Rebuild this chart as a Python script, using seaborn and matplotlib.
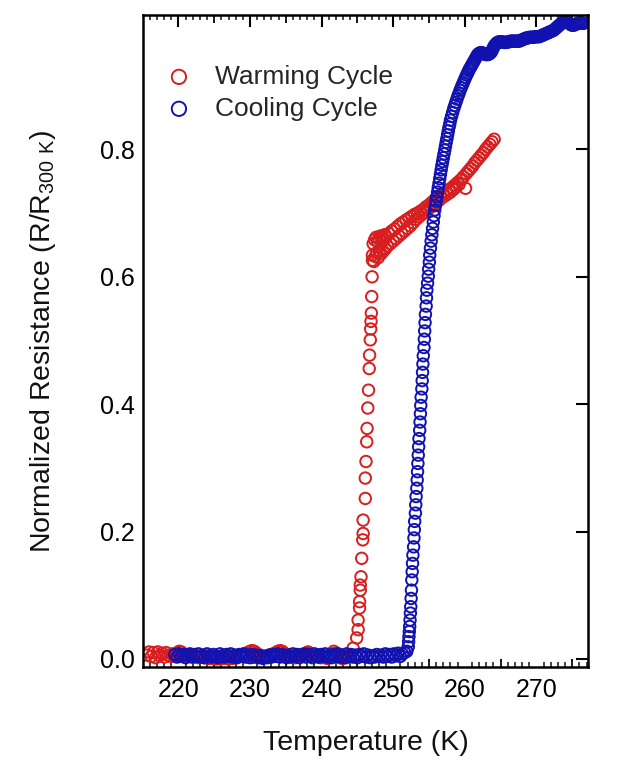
import matplotlib
matplotlib.use("Agg")
import matplotlib.pyplot as plt
import seaborn as sns
import pandas as pd
from matplotlib.ticker import MultipleLocator, FixedLocator, NullLocator

sns.set_theme(style="white")
plt.rcParams["font.family"] = ["Liberation Sans", "DejaVu Sans"]
plt.rcParams["mathtext.default"] = "regular"

# ---------------- data ----------------
warm_T_flat = [215.6, 215.9, 216.2, 216.5, 216.8, 217.1, 217.4, 217.7, 218.0, 218.3, 218.6, 218.9,
               219.2, 219.5, 219.8, 220.1, 220.4, 220.7, 221.0, 221.3, 221.6, 221.9, 222.2, 222.5,
               222.8, 223.1, 223.4, 223.7, 224.0, 224.3, 224.6, 224.9, 225.2, 225.5, 225.8, 226.1,
               226.4, 226.7, 227.0, 227.3, 227.6, 227.9, 228.2, 228.5, 228.8, 229.1, 229.4, 229.7,
               230.0, 230.3, 230.6, 230.9, 231.2, 231.5, 231.8, 232.1, 232.4, 232.7, 233.0, 233.3,
               233.6, 233.9, 234.2, 234.5, 234.8, 235.1, 235.4, 235.7, 236.0, 236.3, 236.6, 236.9,
               237.2, 237.5, 237.8, 238.1, 238.4, 238.7, 239.0, 239.3, 239.6, 239.9, 240.2, 240.5,
               240.8, 241.1, 241.4, 241.7, 242.0, 242.3, 242.6, 242.9, 243.2, 243.5, 243.8, 244.1, 244.4]
warm_R_flat = [0.006, 0.011, 0.004, 0.010, 0.002, 0.011, 0.005, 0.009, 0.003, 0.010, 0.006, 0.004,
               0.008, 0.005, 0.009, 0.012, 0.011, 0.007, 0.005, 0.006, 0.004, 0.005, 0.003, 0.004,
               0.002, 0.003, 0.004, 0.002, 0.003, 0.001, 0.002, 0.001, 0.000, 0.001, 0.000, 0.001,
               0.002, 0.001, 0.000, 0.002, 0.001, 0.003, 0.004, 0.005, 0.006, 0.007, 0.008, 0.010,
               0.012, 0.013, 0.012, 0.009, 0.007, 0.005, 0.004, 0.004, 0.005, 0.006, 0.007, 0.008,
               0.010, 0.012, 0.013, 0.012, 0.009, 0.007, 0.005, 0.004, 0.003, 0.002, 0.003, 0.004,
               0.005, 0.006, 0.008, 0.011, 0.009, 0.007, 0.005, 0.004, 0.003, 0.002, 0.003, 0.002,
               0.001, 0.004, 0.008, 0.012, 0.009, 0.004, 0.002, 0.001, 0.003, 0.002, 0.004, 0.006, 0.017]

warm_T_jump = [244.9, 245.1, 245.1, 245.3, 245.3, 245.4, 245.4, 245.5, 245.6, 245.75, 245.8, 245.8,
               246.1, 246.1, 246.2, 246.3, 246.35, 246.45, 246.55, 246.65, 246.7, 246.8, 246.85,
               246.9, 246.95, 247.0, 247.05, 247.1]
warm_R_jump = [0.033, 0.046, 0.061, 0.080, 0.090, 0.108, 0.116, 0.129, 0.158, 0.187, 0.197, 0.218,
               0.252, 0.284, 0.310, 0.341, 0.362, 0.394, 0.422, 0.456, 0.477, 0.501, 0.518,
               0.530, 0.543, 0.569, 0.600, 0.626]

warm_T_high = [247.1, 247.2, 247.3, 247.4, 247.5, 247.6, 247.7, 247.8, 247.9, 248.0, 248.1, 248.2,
               248.3, 248.4, 248.5, 248.6, 248.7, 248.8, 248.9, 249.0, 249.2, 249.4, 249.6, 249.8,
               250.0, 250.2, 250.4, 250.6, 250.8, 251.0, 251.2, 251.4, 251.6, 251.8, 252.0, 252.2,
               252.4, 252.6, 252.8, 253.0, 253.2, 253.4, 253.6, 253.8, 254.0, 254.2, 254.4, 254.6,
               254.8, 255.0, 255.2, 255.4, 255.6, 255.8, 256.0, 256.2, 256.4, 256.6, 256.8, 257.0,
               257.2, 257.4, 257.6, 257.8, 258.0, 258.2, 258.4, 258.6, 258.8, 259.0, 259.2, 259.4,
               259.6, 259.8, 260.1, 260.2, 260.5, 260.8, 261.1, 261.4, 261.7, 262.0, 262.3, 262.6,
               262.9, 263.2, 263.5, 263.8, 264.1]
warm_R_high = [0.634, 0.652, 0.624, 0.658, 0.632, 0.662, 0.638, 0.656, 0.630, 0.660, 0.640, 0.664,
               0.636, 0.655, 0.662, 0.640, 0.658, 0.666, 0.644, 0.662, 0.648, 0.668, 0.652, 0.672,
               0.656, 0.675, 0.660, 0.679, 0.664, 0.683, 0.668, 0.686, 0.672, 0.689, 0.676, 0.692,
               0.680, 0.695, 0.685, 0.698, 0.690, 0.700, 0.694, 0.703, 0.698, 0.706, 0.701, 0.710,
               0.705, 0.713, 0.709, 0.717, 0.713, 0.721, 0.717, 0.725, 0.720, 0.728, 0.724, 0.731,
               0.727, 0.734, 0.730, 0.737, 0.733, 0.740, 0.737, 0.744, 0.741, 0.748, 0.745, 0.752,
               0.753, 0.757, 0.739, 0.762, 0.766, 0.770, 0.774, 0.779, 0.783, 0.787, 0.791, 0.795,
               0.800, 0.804, 0.808, 0.812, 0.816]

cool_T_flat = [219.5, 219.8, 220.1, 220.4, 220.7, 221.0, 221.3, 221.6, 221.9, 222.2, 222.5, 222.8,
               223.1, 223.4, 223.7, 224.0, 224.3, 224.6, 224.9, 225.2, 225.5, 225.8, 226.1, 226.4,
               226.7, 227.0, 227.3, 227.6, 227.9, 228.2, 228.5, 228.8, 229.1, 229.4, 229.7, 230.0,
               230.3, 230.6, 230.9, 231.2, 231.5, 231.8, 232.1, 232.4, 232.7, 233.0, 233.3, 233.6,
               233.9, 234.2, 234.5, 234.8, 235.1, 235.4, 235.7, 236.0, 236.3, 236.6, 236.9, 237.2,
               237.5, 237.8, 238.1, 238.4, 238.7, 239.0, 239.3, 239.6, 239.9, 240.2, 240.5, 240.8,
               241.1, 241.4, 241.7, 242.0, 242.3, 242.6, 242.9, 243.2, 243.5, 243.8, 244.1, 244.4,
               244.7, 245.0, 245.3, 245.6, 245.9, 246.2, 246.5, 246.8, 247.1, 247.4, 247.7, 248.0,
               248.3, 248.6, 248.9, 249.2, 249.5, 249.8, 250.1, 250.4, 250.7, 251.0, 251.3, 251.6, 251.9]
cool_R_flat = [0.007, 0.003, 0.008, 0.004, 0.007, 0.002, 0.006, 0.008, 0.003, 0.007, 0.004, 0.008,
               0.003, 0.006, 0.002, 0.008, 0.005, 0.003, 0.007, 0.004, 0.002, 0.008, 0.005, 0.003,
               0.007, 0.004, 0.008, 0.003, 0.006, 0.002, 0.007, 0.004, 0.008, 0.003, 0.006, 0.002,
               0.007, 0.003, 0.006, 0.002, 0.005, 0.001, 0.004, 0.002, 0.006, 0.003, 0.007, 0.004,
               0.008, 0.003, 0.007, 0.004, 0.002, 0.006, 0.003, 0.008, 0.004, 0.007, 0.002, 0.006,
               0.008, 0.003, 0.007, 0.004, 0.002, 0.008, 0.005, 0.003, 0.007, 0.004, 0.008, 0.003,
               0.006, 0.002, 0.007, 0.004, 0.008, 0.003, 0.006, 0.002, 0.008, 0.004, 0.007, 0.003,
               0.006, 0.002, 0.007, 0.004, 0.008, 0.003, 0.006, 0.002, 0.005, 0.003, 0.007, 0.004,
               0.006, 0.003, 0.008, 0.004, 0.007, 0.003, 0.008, 0.005, 0.009, 0.004, 0.008, 0.010, 0.012]

cool_T_rise = [252.1, 252.15, 252.2, 252.25, 252.3, 252.35, 252.4, 252.45, 252.5, 252.55, 252.6,
               252.65, 252.7, 252.75, 252.85, 252.9, 252.95, 253.0, 253.1, 253.15, 253.2, 253.3,
               253.35, 253.4, 253.45, 253.5, 253.55, 253.6, 253.7, 253.75, 253.8, 253.85, 253.9,
               254.0, 254.05, 254.1, 254.15, 254.2, 254.3, 254.35, 254.4, 254.45, 254.5, 254.6,
               254.65, 254.7, 254.8, 254.9, 254.95, 255.05, 255.1, 255.2, 255.3, 255.4, 255.5,
               255.6, 255.7, 255.8, 255.9, 256.0, 256.1, 256.2, 256.3, 256.4, 256.5, 256.6, 256.7,
               256.8, 256.9, 257.0, 257.1, 257.2, 257.3, 257.4, 257.5, 257.6, 257.7, 257.8, 257.9,
               258.0, 258.15, 258.3, 258.45, 258.6, 258.75, 258.9, 259.05, 259.2, 259.35, 259.5,
               259.65, 259.8, 259.95, 260.1, 260.25, 260.4, 260.55, 260.7, 260.85, 261.0, 261.15,
               261.3, 261.45, 261.6, 261.75, 261.9]
cool_R_rise = [0.019, 0.027, 0.035, 0.043, 0.051, 0.061, 0.072, 0.082, 0.095, 0.108, 0.124,
               0.137, 0.150, 0.163, 0.176, 0.190, 0.203, 0.216, 0.229, 0.242, 0.255, 0.268,
               0.281, 0.294, 0.307, 0.320, 0.333, 0.346, 0.359, 0.372, 0.385, 0.398, 0.411,
               0.424, 0.437, 0.450, 0.463, 0.476, 0.489, 0.502, 0.515, 0.528, 0.541, 0.554,
               0.567, 0.579, 0.590, 0.601, 0.612, 0.623, 0.634, 0.645, 0.656, 0.666, 0.676,
               0.686, 0.696, 0.705, 0.712, 0.719, 0.726, 0.733, 0.740, 0.747, 0.754, 0.761, 0.768,
               0.775, 0.781, 0.787, 0.793, 0.799, 0.805, 0.811, 0.817, 0.823, 0.829, 0.835, 0.840,
               0.846, 0.852, 0.858, 0.864, 0.869, 0.874, 0.879, 0.884, 0.888, 0.893, 0.897,
               0.901, 0.905, 0.909, 0.913, 0.917, 0.920, 0.924, 0.927, 0.930, 0.933, 0.936,
               0.939, 0.942, 0.945, 0.948, 0.950]

cool_T_top = [262.05, 262.2, 262.35, 262.5, 262.65, 262.8, 262.95, 263.1, 263.25, 263.4, 263.55,
              263.7, 263.85, 264.0, 264.15, 264.3, 264.45, 264.6, 264.8, 265.0, 265.2, 265.4,
              265.6, 265.8, 266.0, 266.2, 266.4, 266.6, 266.8, 267.0, 267.2, 267.4, 267.6, 267.8,
              268.0, 268.2, 268.4, 268.6, 268.8, 269.0, 269.2, 269.4, 269.6, 269.8, 270.0, 270.2,
              270.4, 270.6, 270.8, 271.0, 271.2, 271.4, 271.6, 271.8, 272.0, 272.2, 272.4, 272.6,
              272.8, 273.0, 273.2, 273.4, 273.6, 273.8, 274.0, 274.2, 274.4, 274.6, 274.8, 275.0,
              275.2, 275.4, 275.6, 275.8, 276.0, 276.2, 276.4, 276.6]
cool_R_top = [0.951, 0.952, 0.952, 0.951, 0.950, 0.950, 0.949, 0.949, 0.949, 0.950, 0.951,
              0.953, 0.956, 0.960, 0.963, 0.965, 0.967, 0.968, 0.969, 0.969, 0.969, 0.968,
              0.968, 0.968, 0.969, 0.969, 0.970, 0.970, 0.970, 0.970, 0.970, 0.970, 0.970, 0.971,
              0.972, 0.973, 0.974, 0.975, 0.975, 0.976, 0.976, 0.976, 0.976, 0.977, 0.977, 0.977,
              0.977, 0.978, 0.979, 0.980, 0.981, 0.982, 0.983, 0.984, 0.985, 0.986, 0.987, 0.989,
              0.991, 0.993, 0.995, 0.997, 0.999, 1.000, 1.000, 1.000, 0.999, 0.998, 0.996, 0.995,
              0.995, 0.996, 0.997, 0.998, 0.999, 0.999, 0.998, 0.998]

x_major_ticks = [220, 230, 240, 250, 260, 270]
x_mid_ticks = [225, 235, 245, 255, 265, 275]
y_major_ticks = [0.0, 0.2, 0.4, 0.6, 0.8]
labels = ["Warming Cycle", "Cooling Cycle"]
colors = ["#d81e1e", "#1212b0"]

warm = pd.DataFrame({"T": warm_T_flat + warm_T_jump + warm_T_high,
                     "R": warm_R_flat + warm_R_jump + warm_R_high})
cool = pd.DataFrame({"T": cool_T_flat + cool_T_rise + cool_T_top,
                     "R": cool_R_flat + cool_R_rise + cool_R_top})

# ---------------- figure ----------------
fig = plt.figure(figsize=(6.2, 7.67), dpi=100)
ax = fig.add_axes([0.2306, 0.1304, 0.7177, 0.8500])

for df, lab, col in [(warm, labels[0], colors[0]), (cool, labels[1], colors[1])]:
    sns.scatterplot(data=df, x="T", y="R", ax=ax, marker="o", s=68,
                    facecolors="none", edgecolor=col, linewidth=1.4, label=lab)

ax.set_xlim(215.05, 277.2)
ax.set_ylim(-0.0126, 1.011)

ax.xaxis.set_major_locator(FixedLocator(x_major_ticks))
ax.xaxis.set_minor_locator(MultipleLocator(1))
ax.yaxis.set_major_locator(FixedLocator(y_major_ticks))
ax.yaxis.set_minor_locator(NullLocator())
ax.set_yticklabels([f"{v:.1f}" for v in y_major_ticks])

ax.tick_params(axis="both", which="major", direction="in", length=8.6, width=1.5,
               top=True, right=True, labelsize=18, colors="black")
ax.tick_params(axis="x", which="major", pad=8)
ax.tick_params(axis="y", which="major", pad=6)
ax.tick_params(axis="x", which="minor", direction="in", length=3.6, width=1.2,
               top=True, bottom=True)
for sp in ax.spines.values():
    sp.set_visible(True)
    sp.set_color("black")
    sp.set_linewidth(1.8)

for loc in ["bottom", "top"]:
    sec = ax.secondary_xaxis(loc)
    sec.set_xticks(x_mid_ticks)
    sec.tick_params(direction="in", length=5.8, width=1.3, labelbottom=False,
                    labeltop=False, colors="black")
    sec.spines[loc].set_visible(False)

ax.set_xlabel("Temperature (K)", fontsize=20.5, labelpad=20, color="#111111")
ax.set_ylabel("Normalized Resistance (R/R$_{300\\ K}$)", fontsize=20.5, labelpad=30,
              color="#111111")

ax.legend(loc="upper left", bbox_to_anchor=(-0.02, 0.952), frameon=False, fontsize=19,
          handletextpad=0.35, labelspacing=0.3, markerscale=1.25, borderaxespad=0.3)

fig.savefig("out.png", dpi=100)
